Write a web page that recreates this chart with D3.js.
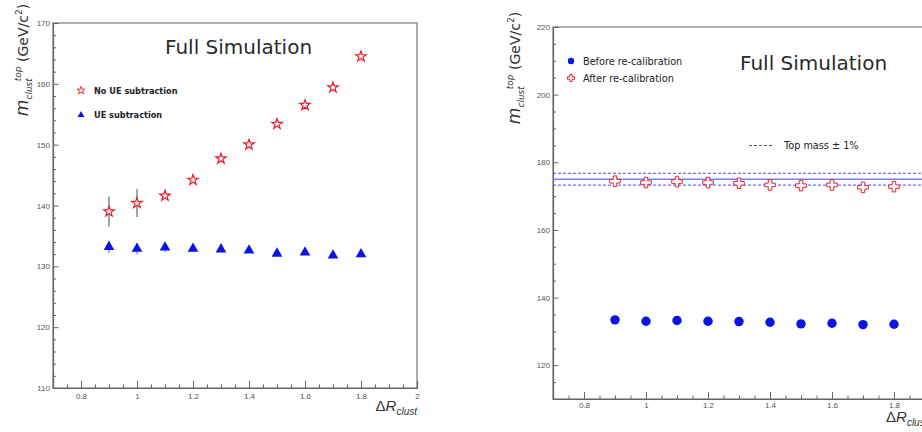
<!DOCTYPE html>
<html><head><meta charset="utf-8">
<script src="https://cdn.jsdelivr.net/npm/d3@7"></script>
<style>body{margin:0;background:#fff}svg{display:block}</style>
</head><body>
<script>
// ---- data ----
const dR = [0.9, 1.0, 1.1, 1.2, 1.3, 1.4, 1.5, 1.6, 1.7, 1.8];
const noUE = [139.0, 140.4, 141.6, 144.2, 147.7, 150.0, 153.4, 156.5, 159.4, 164.5];
const noUEerr = [2.5, 2.3, 0.4, 0.3, 0.3, 0.3, 0.3, 0.3, 0.3, 0.3];
const withUE = [133.2, 132.9, 133.1, 132.9, 132.8, 132.6, 132.1, 132.3, 131.8, 132.0];
const withUEerr = [1.0, 0.9, 0.7, 0.5, 0.4, 0.4, 0.4, 0.4, 0.4, 0.4];
const beforeCal = [133.4, 133.0, 133.2, 133.0, 132.9, 132.7, 132.2, 132.4, 132.0, 132.1];
const afterCal = [174.4, 174.0, 174.3, 174.0, 173.8, 173.3, 173.1, 173.3, 172.6, 172.8];
const topMass = 175;
const band = 0.01;
const xTicksL = [0.8, 1.0, 1.2, 1.4, 1.6, 1.8, 2.0];
const xTicksR = [0.8, 1.0, 1.2, 1.4, 1.6, 1.8];
const yTicksL = [110, 120, 130, 140, 150, 160, 170];
const yTicksR = [120, 140, 160, 180, 200, 220];
const legendL = ["No UE subtraction", "UE subtraction"];
const legendR = ["Before re-calibration", "After re-calibration"];
const lineLegend = "Top mass \u00b1 1%";
const title = "Full Simulation";

const W = 922, H = 432;
const svg = d3.select("body").append("svg").attr("width", W).attr("height", H);
const RED = "#e8202a", BLUE = "#0a14e6", AX = "#666";
const fmt = d => String(+d.toFixed(1));

function panel(xr, yd, yr, xTicks, yTicks, yMinorStep, xPad) {
  const x = d3.scaleLinear([0.7, 2.0], xr);
  const y = d3.scaleLinear(yd, yr);
  const g = svg.append("g");
  g.append("rect").attr("x", xr[0]).attr("y", yr[1]).attr("width", xr[1]-xr[0]).attr("height", yr[0]-yr[1])
    .attr("fill", "none").attr("stroke", "#777").attr("stroke-width", 1.2);
  const xMinor = d3.range(0.75, 2.0001, 0.05).filter(v => Math.abs(v*5 - Math.round(v*5)) > 1e-6);
  g.append("g").attr("transform", `translate(0,${yr[0]})`)
    .call(d3.axisBottom(x).tickValues(xMinor).tickSize(-3.5).tickFormat(""))
    .call(s => s.select(".domain").remove()).selectAll("line").attr("stroke", AX);
  const gx = g.append("g").attr("transform", `translate(0,${yr[0]})`)
    .call(d3.axisBottom(x).tickValues(xTicks).tickSize(-7).tickPadding(xPad).tickFormat(fmt));
  gx.select(".domain").attr("stroke", AX).attr("stroke-width", 1.2);
  gx.selectAll("line").attr("stroke", AX);
  gx.selectAll("text").attr("font-family", "Liberation Sans, Arial").attr("font-size", 8).attr("fill", "#555");
  const yMinor = d3.range(yd[0], yd[1] + 0.001, yMinorStep).filter(v => !yTicks.includes(v));
  g.append("g").attr("transform", `translate(${xr[0]},0)`)
    .call(d3.axisLeft(y).tickValues(yMinor).tickSize(-3).tickFormat(""))
    .call(s => s.select(".domain").remove()).selectAll("line").attr("stroke", AX);
  const gy = g.append("g").attr("transform", `translate(${xr[0]},0)`)
    .call(d3.axisLeft(y).tickValues(yTicks).tickSize(-5.5).tickPadding(3).tickFormat(d3.format("d")));
  gy.select(".domain").attr("stroke", AX).attr("stroke-width", 1.2);
  gy.selectAll("line").attr("stroke", AX);
  gy.selectAll("text").attr("font-family", "Liberation Sans, Arial").attr("font-size", 8).attr("fill", "#555");
  return {x, y, g};
}

function yLabel(g, cx, cy) {
  const t = g.append("text").attr("transform", `translate(${cx},${cy}) rotate(-90)`)
    .attr("text-anchor", "middle").attr("font-family", "DejaVu Sans, sans-serif").attr("fill", "#333");
  t.append("tspan").attr("font-size", 17).attr("font-style", "italic").text("m");
  t.append("tspan").attr("font-size", 9).attr("font-style", "italic").attr("dy", 4).text("clust");
  t.append("tspan").attr("font-size", 9).attr("font-style", "italic").attr("dx", -3).attr("dy", -11).text("top");
  t.append("tspan").attr("font-size", 14).attr("dy", 7).text(" (GeV/c");
  t.append("tspan").attr("font-size", 9).attr("dy", -6).text("2");
  t.append("tspan").attr("font-size", 14).attr("dy", 6).text(")");
}
function xLabel(g, xe, ye, anchor) {
  const t = g.append("text").attr("x", xe).attr("y", ye).attr("text-anchor", anchor)
    .attr("font-family", "Liberation Sans, Arial").attr("fill", "#333");
  t.append("tspan").attr("font-size", 15).text("\u0394");
  t.append("tspan").attr("font-size", 15).attr("font-style", "italic").text("R");
  t.append("tspan").attr("font-size", 10).attr("font-style", "italic").attr("dy", 4).text("clust");
}
function titleText(g, xx, yy) {
  g.append("text").attr("x", xx).attr("y", yy).attr("font-family", "DejaVu Sans, sans-serif")
    .attr("font-size", 20).attr("fill", "#2a2a2a").text(title);
}

// ---- left panel ----
const L = panel([53, 417], [110, 170], [388, 23], xTicksL, yTicksL, 2, 5);
const star = d3.symbol(d3.symbolStar, 34)();
const tri = d3.symbol(d3.symbolTriangle, 50)();
const rows = dR.map((d, i) => ({d, a: noUE[i], ae: noUEerr[i], b: withUE[i], be: withUEerr[i], c: beforeCal[i], e: afterCal[i]}));

L.g.selectAll(".eb1").data(rows).join("line").attr("x1", r => L.x(r.d)).attr("x2", r => L.x(r.d))
  .attr("y1", r => L.y(r.a - r.ae)).attr("y2", r => L.y(r.a + r.ae)).attr("stroke", "#888").attr("stroke-width", 1.5);
L.g.selectAll(".eb2").data(rows).join("line").attr("x1", r => L.x(r.d)).attr("x2", r => L.x(r.d))
  .attr("y1", r => L.y(r.b - r.be)).attr("y2", r => L.y(r.b + r.be)).attr("stroke", "#6a78d8").attr("stroke-width", 1.2);
L.g.selectAll(".st").data(rows).join("path").attr("d", star)
  .attr("transform", r => `translate(${L.x(r.d)},${L.y(r.a)})`)
  .attr("fill", "#fff").attr("stroke", RED).attr("stroke-width", 1.2);
L.g.selectAll(".tr").data(rows).join("path").attr("d", tri)
  .attr("transform", r => `translate(${L.x(r.d)},${L.y(r.b)})`).attr("fill", BLUE);
titleText(L.g, 165, 54);
L.g.append("path").attr("d", d3.symbol(d3.symbolStar, 20)()).attr("transform", "translate(81,90.5)")
  .attr("fill", "#fff").attr("stroke", RED).attr("stroke-width", 0.9);
L.g.append("path").attr("d", d3.symbol(d3.symbolTriangle, 20)()).attr("transform", "translate(81,115)").attr("fill", BLUE);
L.g.selectAll(".lg").data(legendL).join("text").attr("x", 94).attr("y", (d, i) => 93.5 + i * 24.5)
  .attr("font-family", "DejaVu Sans, sans-serif").attr("font-weight", "bold").attr("font-size", 8.2).attr("fill", "#222").text(d => d);
yLabel(L.g, 28, 60);
xLabel(L.g, 417, 411, "end");

// ---- right panel ----
const R = panel([553, 956], [110, 220], [399, 27], xTicksR, yTicksR, 5, 3);
const lines = [{v: topMass * (1 + band), dash: "3,2"}, {v: topMass, dash: null}, {v: topMass * (1 - band), dash: "3,2"}];
R.g.selectAll(".hl").data(lines).join("line").attr("x1", R.x(0.7)).attr("x2", R.x(2.0))
  .attr("y1", d => R.y(d.v)).attr("y2", d => R.y(d.v))
  .attr("stroke", d => d.dash ? "#4a4ae0" : "#7a80f0").attr("stroke-width", d => d.dash ? 1 : 1.6)
  .attr("stroke-dasharray", d => d.dash);
const cross = d3.symbol(d3.symbolCross, 62)();
R.g.selectAll(".ci").data(rows).join("circle").attr("cx", r => R.x(r.d)).attr("cy", r => R.y(r.c)).attr("r", 4.7).attr("fill", BLUE);
R.g.selectAll(".cr").data(rows).join("path").attr("d", cross)
  .attr("transform", r => `translate(${R.x(r.d)},${R.y(r.e)})`).attr("fill", "#fff").attr("stroke", RED).attr("stroke-width", 1);
titleText(R.g, 740, 70);
R.g.append("circle").attr("cx", 571).attr("cy", 61).attr("r", 3.2).attr("fill", BLUE);
R.g.append("path").attr("d", d3.symbol(d3.symbolCross, 28)()).attr("transform", "translate(571,78)")
  .attr("fill", "#fff").attr("stroke", RED).attr("stroke-width", 1);
R.g.selectAll(".lg").data(legendR).join("text").attr("x", 583).attr("y", (d, i) => 64.5 + i * 17.5)
  .attr("font-family", "DejaVu Sans, sans-serif").attr("font-size", 9.7).attr("fill", "#222").text(d => d);
R.g.append("line").attr("x1", 749).attr("x2", 772).attr("y1", 145.5).attr("y2", 145.5)
  .attr("stroke", "#4a4ae0").attr("stroke-dasharray", "3,2");
R.g.append("text").attr("x", 784).attr("y", 149).attr("font-family", "DejaVu Sans, sans-serif")
  .attr("font-size", 9.7).attr("fill", "#222").text(lineLegend);
yLabel(R.g, 520, 68);
xLabel(R.g, 886, 422, "start");
</script>
</body></html>
